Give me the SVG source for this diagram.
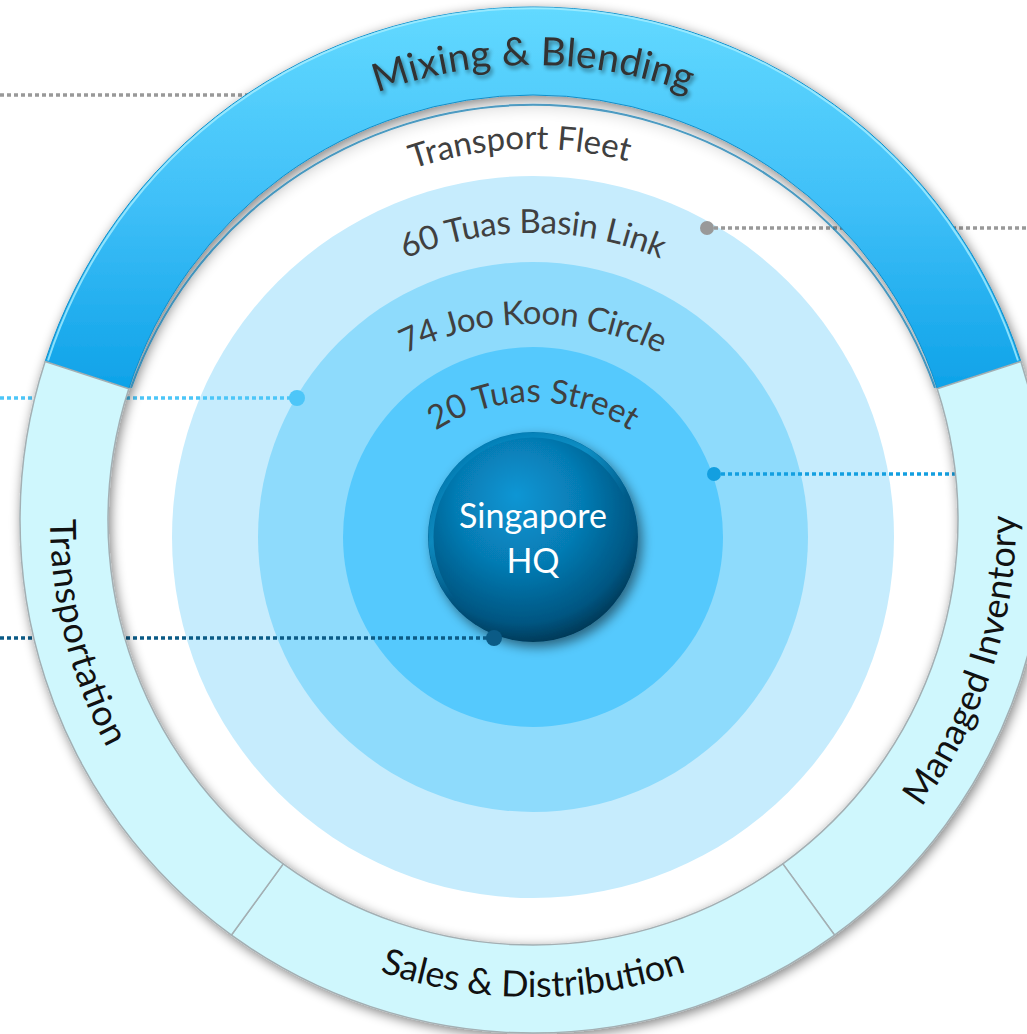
<svg xmlns="http://www.w3.org/2000/svg" width="1027" height="1034" viewBox="0 0 1027 1034">
<defs>
<style>
.lbl{font-family:Lato,"Open Sans","Liberation Sans",sans-serif;fill:#404040;font-size:33px}
.side{font-family:Lato,"Open Sans","Liberation Sans",sans-serif;fill:#111111;font-size:36px}
.top{font-family:Lato,"Open Sans","Liberation Sans",sans-serif;fill:#333333;font-size:39px}
.hq{font-family:Lato,"Open Sans","Liberation Sans",sans-serif;fill:#ffffff;font-size:34px}
.conn{fill:none;stroke-width:3.5;stroke-dasharray:4 3}
.light{fill:#CFF7FD;stroke:#A3AFB3;stroke-width:1.5}
</style>
<linearGradient id="blueSeg" gradientUnits="userSpaceOnUse" x1="0" y1="10" x2="0" y2="390">
<stop offset="0" stop-color="#62D9FF"/>
<stop offset="0.5" stop-color="#40C0F8"/>
<stop offset="1" stop-color="#0EA2E8"/>
</linearGradient>
<radialGradient id="sphere" cx="0.45" cy="0.38" r="0.68" fx="0.42" fy="0.3">
<stop offset="0" stop-color="#0A96D4"/>
<stop offset="0.45" stop-color="#067BB3"/>
<stop offset="0.8" stop-color="#045682"/>
<stop offset="1" stop-color="#022B42"/>
</radialGradient>
<linearGradient id="rim" x1="0.2" y1="0" x2="0.8" y2="1">
<stop offset="0" stop-color="#1DB8F2" stop-opacity="0"/>
<stop offset="0.3" stop-color="#1DB8F2" stop-opacity="0.45"/>
<stop offset="0.55" stop-color="#1DB8F2" stop-opacity="0"/>
</linearGradient>
<filter id="ringShadow" x="-10%" y="-10%" width="120%" height="120%">
<feGaussianBlur in="SourceAlpha" stdDeviation="6"/>
<feOffset dx="2" dy="3"/>
<feComponentTransfer><feFuncA type="linear" slope="0.5"/></feComponentTransfer>
<feMerge><feMergeNode/><feMergeNode in="SourceGraphic"/></feMerge>
</filter>
<filter id="txtShadow" x="-10%" y="-30%" width="120%" height="160%">
<feGaussianBlur in="SourceAlpha" stdDeviation="2"/>
<feOffset dx="2" dy="3"/>
<feComponentTransfer><feFuncA type="linear" slope="0.45"/></feComponentTransfer>
<feMerge><feMergeNode/><feMergeNode in="SourceGraphic"/></feMerge>
</filter>
<filter id="sphShadow" x="-30%" y="-30%" width="160%" height="160%">
<feGaussianBlur in="SourceAlpha" stdDeviation="6"/>
<feOffset dx="4" dy="5"/>
<feComponentTransfer><feFuncA type="linear" slope="0.5"/></feComponentTransfer>
<feMerge><feMergeNode/><feMergeNode in="SourceGraphic"/></feMerge>
</filter>
<path id="pMix" d="M 100.27 379.40 A 455 455 0 0 1 965.73 379.40"/>
<path id="pFleet" d="M 180.16 405.35 A 371 371 0 0 1 885.84 405.35"/>
<path id="p60" d="M 219.15 461.02 A 330 330 0 0 1 846.85 461.02"/>
<path id="p74" d="M 257.19 524.38 A 290 290 0 0 1 808.81 524.38"/>
<path id="p20" d="M 361.81 526.38 A 180 180 0 0 1 704.19 526.38"/>
<path id="pTrans" d="M 73.64 370.74 A 483 483 0 0 0 249.10 910.76"/>
<path id="pMan" d="M 816.90 910.76 A 483 483 0 0 0 992.36 370.74"/>
<path id="pSales" d="M 252.62 905.90 A 477 477 0 0 0 813.38 905.90"/>
</defs>
<rect x="0" y="0" width="1027" height="1034" fill="#ffffff"/>

<g id="node-60-tuas-basin-link">
<circle cx="533" cy="537" r="361" fill="#C6ECFD"/>
<text class="lbl"><textPath href="#p60" startOffset="50%" text-anchor="middle" textLength="262" lengthAdjust="spacing">60 Tuas Basin Link</textPath></text>
</g>
<g id="node-74-joo-koon-circle">
<circle cx="533" cy="537" r="275" fill="#8EDBFC"/>
<text class="lbl"><textPath href="#p74" startOffset="50%" text-anchor="middle" textLength="264" lengthAdjust="spacing">74 Joo Koon Circle</textPath></text>
</g>
<g id="node-20-tuas-street">
<circle cx="533" cy="537" r="190" fill="#55C9FD"/>
<text class="lbl"><textPath href="#p20" startOffset="50%" text-anchor="middle" textLength="206" lengthAdjust="spacing">20 Tuas Street</textPath></text>
</g>
<g id="node-transport-fleet">
<text class="lbl"><textPath href="#pFleet" startOffset="48.6%" text-anchor="middle" textLength="218" lengthAdjust="spacing">Transport Fleet</textPath></text>
</g>
<g id="node-singapore-hq">
<circle cx="533" cy="537" r="105" fill="url(#sphere)" filter="url(#sphShadow)"/>
<circle cx="533" cy="537" r="102" fill="none" stroke="url(#rim)" stroke-width="5"/>
<text class="hq" x="533" y="528" text-anchor="middle">Singapore</text>
<text class="hq" x="533" y="573" text-anchor="middle">HQ</text>
</g>

<g id="connectors">
<line class="conn" x1="0" y1="95" x2="250" y2="95" stroke="#999999"/>
<line class="conn" x1="707" y1="228" x2="1027" y2="228" stroke="#999999"/>
<circle cx="707" cy="228" r="7" fill="#999999"/>
<line class="conn" x1="0" y1="398" x2="297" y2="398" stroke="#4DC6F8"/>
<circle cx="297" cy="398" r="8" fill="#4DC6F8"/>
<line class="conn" x1="714" y1="474" x2="955" y2="474" stroke="#139FE0"/>
<circle cx="714" cy="474" r="7" fill="#139FE0"/>
<line class="conn" x1="0" y1="638" x2="494" y2="638" stroke="#0B5B86"/>
<circle cx="494" cy="638" r="8" fill="#0B5B86"/>
</g>

<g id="ring" filter="url(#ringShadow)">
<g id="node-mixing-blending">
<path d="M 45.11 361.47 A 513 513 0 0 1 1020.89 361.47 L 937.20 388.67 A 425 425 0 0 0 128.80 388.67 Z" fill="url(#blueSeg)" stroke="#0F8FCB" stroke-width="1"/>
<path d="M 48 360.5 A 510 510 0 0 1 1018 360.5" fill="none" stroke="#A5EEFF" stroke-width="2" opacity="0.8"/>
<path d="M 131 387.9 A 427 427 0 0 1 935 387.9" fill="none" stroke="#0A78AE" stroke-width="2" opacity="0.7"/>
</g>
<g id="node-managed-inventory">
<path class="light" d="M 1020.89 361.47 A 513 513 0 0 1 834.54 935.03 L 782.81 863.83 A 425 425 0 0 0 937.20 388.67 Z"/>
</g>
<g id="node-sales-distribution">
<path class="light" d="M 834.54 935.03 A 513 513 0 0 1 231.46 935.03 L 283.19 863.83 A 425 425 0 0 0 782.81 863.83 Z"/>
</g>
<g id="node-transportation">
<path class="light" d="M 231.46 935.03 A 513 513 0 0 1 45.11 361.47 L 128.80 388.67 A 425 425 0 0 0 283.19 863.83 Z"/>
</g>
</g>

<text class="top" filter="url(#txtShadow)"><textPath href="#pMix" startOffset="50%" text-anchor="middle" textLength="318" lengthAdjust="spacing">Mixing &amp; Blending</textPath></text>
<text class="side"><textPath href="#pTrans" startOffset="270" text-anchor="middle" textLength="238" lengthAdjust="spacing">Transportation</textPath></text>
<text class="side"><textPath href="#pMan" startOffset="50%" text-anchor="middle" textLength="312" lengthAdjust="spacing">Managed Inventory</textPath></text>
<text class="side"><textPath href="#pSales" startOffset="50%" text-anchor="middle" textLength="312" lengthAdjust="spacing">Sales &amp; Distribution</textPath></text>
</svg>
